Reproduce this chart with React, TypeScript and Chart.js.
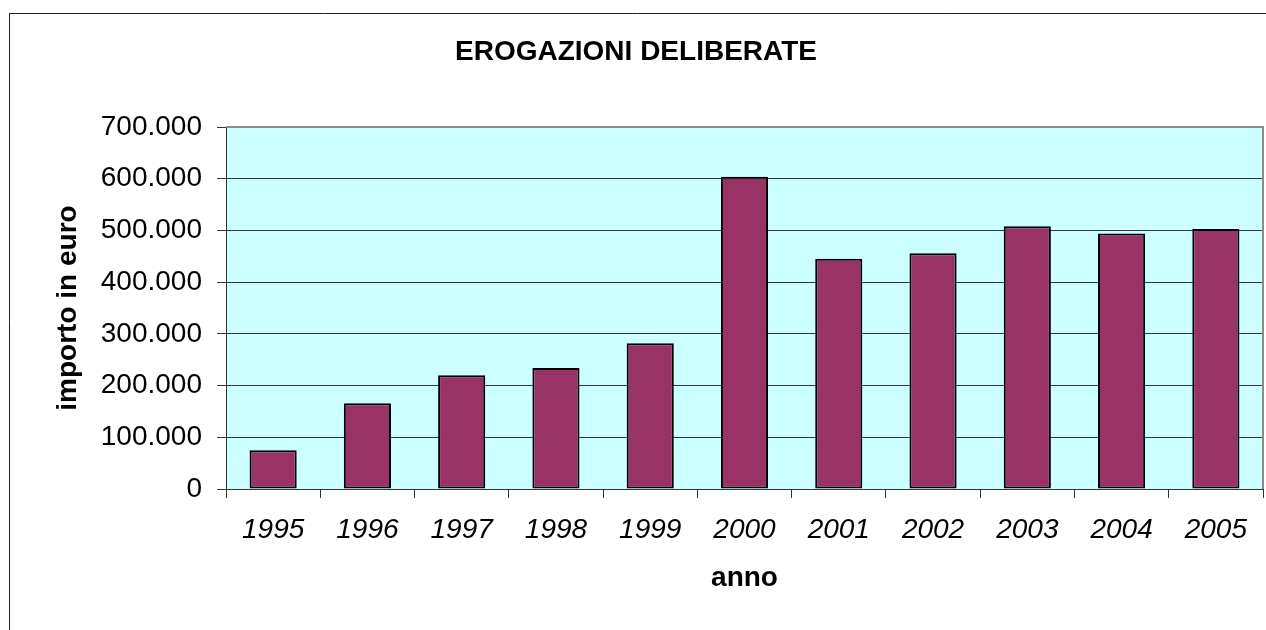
import React, { useEffect, useRef } from "react";
import { Chart, registerables } from "chart.js";

Chart.register(...registerables);

const years = ["1995", "1996", "1997", "1998", "1999", "2000", "2001", "2002", "2003", "2004", "2005"];
const amounts = [75000, 166000, 220000, 234000, 282000, 604000, 445000, 456000, 508000, 494000, 503000];
const yTickValues = [0, 100000, 200000, 300000, 400000, 500000, 600000, 700000];
const chartTitle = "EROGAZIONI DELIBERATE";
const yAxisTitle = "importo in euro";
const xAxisTitle = "anno";

const FONT = 'Arial, "Liberation Sans", sans-serif';

function formatIt(v: number): string {
  return String(Math.round(v)).replace(/\B(?=(\d{3})+(?!\d))/g, ".");
}

const framePlugin = {
  id: "frame",
  beforeDraw(chart: any) {
    const { ctx, chartArea: a } = chart;
    ctx.save();
    ctx.fillStyle = "#CCFFFF";
    ctx.fillRect(a.left, a.top, a.right - a.left, a.bottom - a.top);
    ctx.restore();
  },
  afterDraw(chart: any) {
    const { ctx, chartArea: a } = chart;
    ctx.save();
    ctx.strokeStyle = "#8c8c8c";
    ctx.lineWidth = 2;
    ctx.beginPath();
    ctx.moveTo(a.left, a.top);
    ctx.lineTo(a.right, a.top);
    ctx.lineTo(a.right, a.bottom);
    ctx.stroke();
    ctx.strokeStyle = "#222";
    ctx.lineWidth = 1;
    ctx.beginPath();
    ctx.moveTo(9.5, chart.height);
    ctx.lineTo(9.5, 13.5);
    ctx.lineTo(chart.width, 13.5);
    ctx.stroke();
    ctx.restore();
  },
};

export default function App() {
  const ref = useRef<HTMLCanvasElement>(null);

  useEffect(() => {
    if (!ref.current) return;
    const chart = new Chart(ref.current, {
      type: "bar",
      data: {
        labels: years,
        datasets: [
          {
            data: amounts,
            backgroundColor: "#993366",
            borderColor: "#000000",
            borderWidth: 2,
            borderSkipped: false,
            categoryPercentage: 1,
            barPercentage: 0.5,
          },
        ],
      },
      options: {
        animation: false,
        responsive: false,
        events: [],
        layout: { padding: { left: 9, right: 3, top: 0, bottom: 0 } },
        plugins: {
          legend: { display: false },
          tooltip: { enabled: false },
          title: {
            display: true,
            text: chartTitle,
            color: "#000",
            font: { family: FONT, size: 28, weight: "bold" },
            padding: { top: 35, bottom: 58.4 },
          },
        },
        scales: {
          x: {
            type: "category",
            offset: true,
            grid: {
              display: true,
              offset: true,
              drawOnChartArea: false,
              drawTicks: true,
              tickLength: 9,
              color: "#333",
            },
            border: { display: true, color: "#333", width: 1 },
            ticks: {
              color: "#000",
              padding: 15,
              maxRotation: 0,
              autoSkip: false,
              font: { family: FONT, size: 28, style: "italic" },
            },
            title: {
              display: true,
              text: xAxisTitle,
              color: "#000",
              font: { family: FONT, size: 28, weight: "bold" },
              padding: { top: 0, bottom: 35 },
            },
            afterFit: (s: any) => {
              s.height = 141;
            },
          },
          y: {
            min: 0,
            max: 700000,
            grid: {
              color: "#333",
              lineWidth: 1,
              drawTicks: true,
              tickLength: 9,
            },
            border: { display: true, color: "#333", width: 1 },
            ticks: {
              color: "#000",
              padding: 15,
              font: { family: FONT, size: 28 },
              callback: (v: any) => formatIt(Number(v)),
            },
            afterBuildTicks: (s: any) => {
              s.ticks = yTickValues.map((v) => ({ value: v }));
            },
            title: {
              display: true,
              text: yAxisTitle,
              color: "#000",
              font: { family: FONT, size: 28, weight: "bold" },
              padding: { top: 42, bottom: 0 },
            },
            afterFit: (s: any) => {
              s.width = 217;
            },
          },
        },
      },
      plugins: [framePlugin],
    });
    return () => chart.destroy();
  }, []);

  return (
    <div style={{ position: "absolute", left: 0, top: 0, width: 1266, height: 630, background: "#fff" }}>
      <canvas ref={ref} width={1266} height={630} style={{ display: "block" }} />
    </div>
  );
}
